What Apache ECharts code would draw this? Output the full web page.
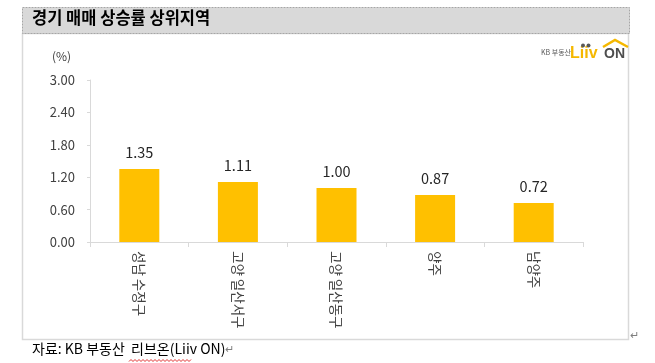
<!DOCTYPE html>
<html>
<head>
<meta charset="utf-8">
<script src="https://cdn.jsdelivr.net/npm/echarts@6/dist/echarts.min.js"></script>
<style>html,body{margin:0;padding:0;background:#fff;}#c{width:655px;height:363px;}</style>
</head>
<body>
<div id="c"></div>
<script>
const categories = ['성남 수정구', '고양 일산서구', '고양 일산동구', '양주', '남양주'];
const values = [1.35, 1.11, 1.00, 0.87, 0.72];
const yTicks = [0, 0.6, 1.2, 1.8, 2.4, 3.0];
const titleText = '경기 매매 상승률 상위지역';
const unitText = '(%)';
const sourcePrefix = '자료: KB 부동산  ';
const sourceName = '리브온(Liiv';
const sourceSuffix = ' ON)';

const FONT = '"Noto Sans CJK KR", "Noto Sans", sans-serif';

// decorative red wavy spell-check underline
const wave = [];
for (let x = 129, k = 0; x <= 192; x += 2, k++) wave.push([x, k % 2 ? 359.5 : 361.5]);

const chart = echarts.init(document.getElementById('c'), null, {renderer: 'canvas'});
chart.setOption({
  animation: false,
  backgroundColor: '#fff',
  grid: {left: 90, right: 72, top: 80, bottom: 121, containLabel: false},
  xAxis: {
    type: 'category',
    data: categories,
    axisLine: {show: true, lineStyle: {color: '#d9d9d9', width: 1}},
    axisTick: {show: true, length: 5, lineStyle: {color: '#d9d9d9'}},
    axisLabel: {rotate: -90, margin: 9, fontSize: 13.5, color: '#404040', fontFamily: FONT, interval: 0}
  },
  yAxis: {
    type: 'value',
    min: yTicks[0],
    max: yTicks[yTicks.length - 1],
    interval: 0.6,
    axisLine: {show: true, lineStyle: {color: '#d9d9d9', width: 1}},
    axisTick: {show: true, length: 3, lineStyle: {color: '#d9d9d9'}},
    splitLine: {show: false},
    axisLabel: {margin: 15, fontSize: 13, color: '#404040', fontFamily: FONT, formatter: v => v.toFixed(2)}
  },
  series: [{
    type: 'bar',
    data: values,
    barWidth: 40,
    itemStyle: {color: '#ffc000'},
    label: {show: true, position: 'top', distance: 9, fontSize: 14.5, color: '#262626', fontFamily: FONT, formatter: p => p.value.toFixed(2)}
  }],
  graphic: [
    {type: 'rect', z: -10, shape: {x: 22.5, y: 33.5, width: 606, height: 306}, style: {fill: '#fff', stroke: '#d9d9d9', lineWidth: 1.5}},
    {type: 'rect', z: -5, shape: {x: 22.5, y: 7.5, width: 607, height: 26}, style: {fill: '#d9d9d9', stroke: '#a6a6a6', lineWidth: 1, lineDash: [2, 1]}},
    {type: 'text', left: 32, top: 9, style: {text: titleText, font: 'bold 16.5px ' + FONT, fill: '#000'}},
    {type: 'text', left: 52, top: 50, style: {text: unitText, font: '12px ' + FONT, fill: '#404040'}},
    {type: 'text', left: 541, top: 49, style: {text: 'KB 부동산', font: '7px ' + FONT, fill: '#595959'}},
    {type: 'text', left: 570, top: 46, style: {text: 'Liiv', font: 'bold 16px "Liberation Sans", sans-serif', fill: '#f5b800'}},
    {type: 'text', left: 604, top: 47, style: {text: 'ON', font: 'bold 14px "Liberation Sans", sans-serif', fill: '#4d4d4d'}},
    {type: 'circle', shape: {cx: 583, cy: 45.5, r: 2}, style: {fill: '#595959'}},
    {type: 'circle', shape: {cx: 588.5, cy: 45.5, r: 2}, style: {fill: '#595959'}},
    {type: 'polyline', shape: {points: [[603, 47], [615, 40], [628, 47]]}, style: {stroke: '#f5b800', lineWidth: 2.5, fill: null}},
    {type: 'text', left: 630, top: 329, style: {text: '↵', font: '11px ' + FONT, fill: '#7f7f7f'}},
    {type: 'text', left: 32, top: 342, style: {
      text: '{a|' + sourcePrefix + '}{u|' + sourceName + '}{a|' + sourceSuffix + '}{b|↵}',
      rich: {
        a: {font: '14px ' + FONT, fill: '#000'},
        u: {font: '14px ' + FONT, fill: '#000'},
        b: {font: '11px ' + FONT, fill: '#7f7f7f'}
      }
    }},
    {type: 'polyline', shape: {points: wave}, style: {stroke: '#e03030', lineWidth: 1, fill: null}}
  ]
});
</script>
</body>
</html>
